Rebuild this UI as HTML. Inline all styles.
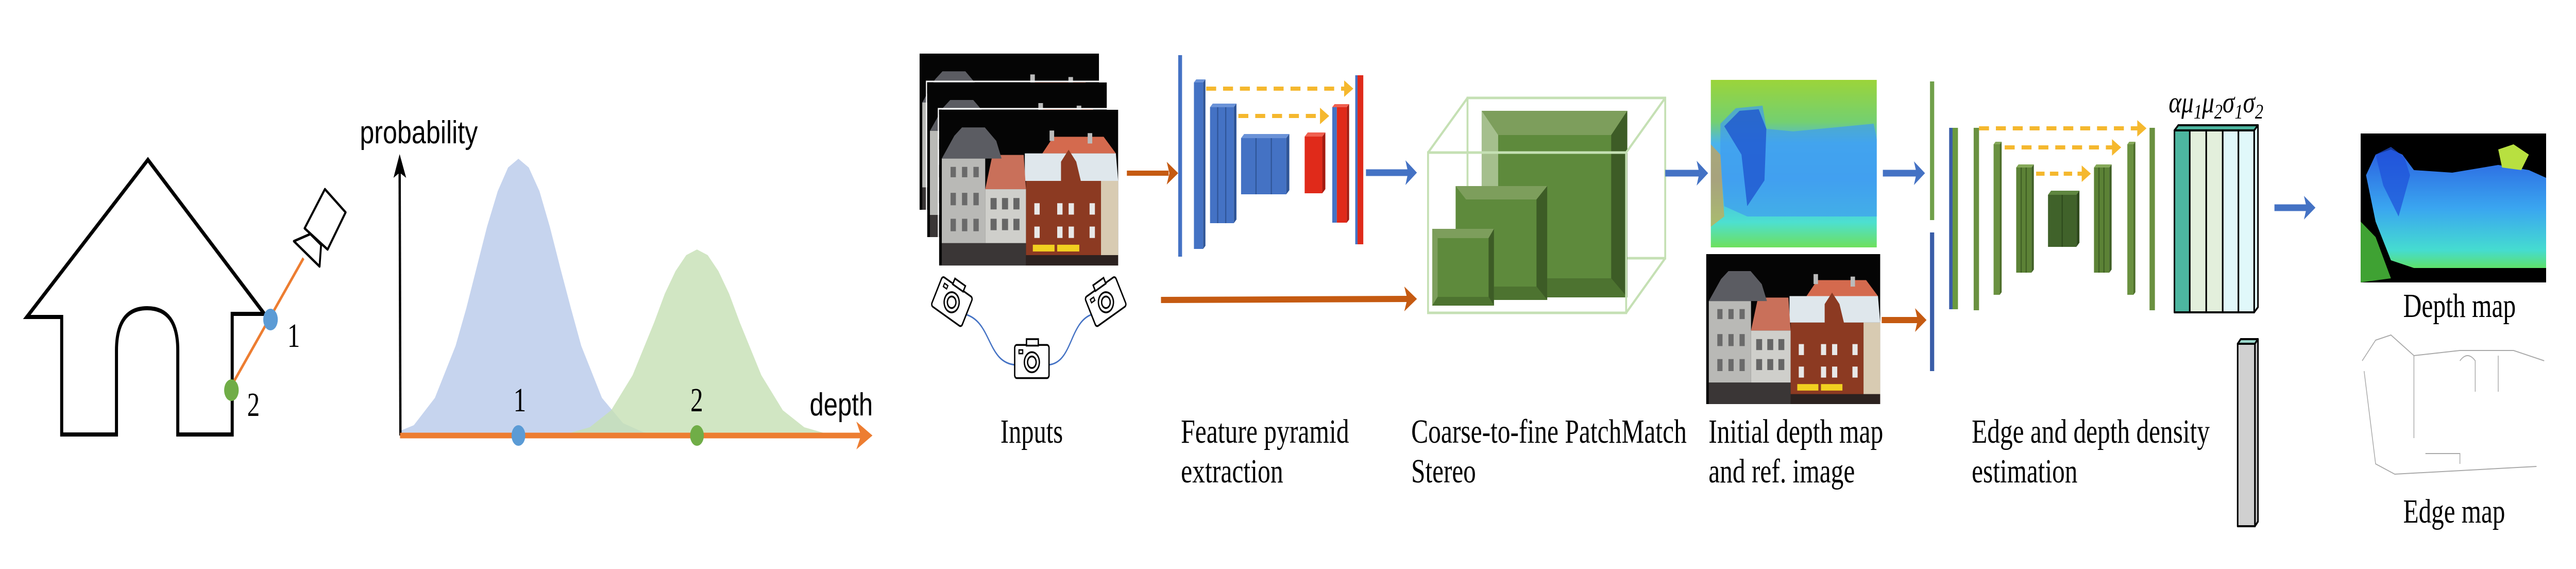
<!DOCTYPE html>
<html><head><meta charset="utf-8"><style>
html,body{margin:0;padding:0;background:#fff;width:100%;height:100%;overflow:hidden}
svg{display:block;width:100vw;height:100vh}
.lab{font-family:"Liberation Serif",serif;font-size:66px;fill:#000}
</style></head><body>
<svg viewBox="0 0 6723 1104" preserveAspectRatio="none" xmlns="http://www.w3.org/2000/svg">
<defs>
<g id="bld">
<rect x="0" y="0" width="470" height="300" fill="#050505"/>
<polygon points="271,84 300,52 432,52 464,84" fill="#d46a4e"/>
<rect x="290" y="40" width="12" height="20" fill="#bbb"/><rect x="390" y="45" width="12" height="20" fill="#bbb"/>
<polygon points="225,84 464,84 470,137 225,137" fill="#dfe7ec"/>
<polygon points="228,137 320,137 320,100 340,77 360,100 372,137 425,137 425,293 228,293" fill="#8c3a22"/>
<g fill="#e8e8e8"><rect x="250" y="180" width="14" height="22"/><rect x="310" y="180" width="14" height="22"/><rect x="340" y="180" width="14" height="22"/><rect x="395" y="180" width="14" height="22"/><rect x="250" y="225" width="14" height="22"/><rect x="310" y="225" width="14" height="22"/><rect x="340" y="225" width="14" height="22"/><rect x="395" y="225" width="14" height="22"/></g>
<rect x="425" y="137" width="45" height="163" fill="#d8cbb2"/>
<rect x="246" y="260" width="57" height="13" fill="#f1d020"/><rect x="310" y="260" width="58" height="13" fill="#f1d020"/>
<polygon points="121,153 140,87 222,87 228,153" fill="#c9705a"/>
<rect x="121" y="153" width="107" height="104" fill="#cfcfcb"/>
<g fill="#666"><rect x="135" y="170" width="16" height="22"/><rect x="165" y="170" width="16" height="22"/><rect x="195" y="170" width="16" height="22"/><rect x="135" y="210" width="16" height="22"/><rect x="165" y="210" width="16" height="22"/><rect x="195" y="210" width="16" height="22"/></g>
<polygon points="7,94 40,50 60,34 120,34 150,60 164,94" fill="#5b5c62"/>
<rect x="7" y="94" width="114" height="163" fill="#b9b9b6"/>
<g fill="#6a6a6a"><rect x="30" y="110" width="14" height="20"/><rect x="60" y="110" width="14" height="20"/><rect x="90" y="110" width="14" height="20"/><rect x="30" y="160" width="14" height="24"/><rect x="60" y="160" width="14" height="24"/><rect x="90" y="160" width="14" height="24"/><rect x="30" y="210" width="14" height="24"/><rect x="60" y="210" width="14" height="24"/><rect x="90" y="210" width="14" height="24"/></g>
<rect x="7" y="257" width="221" height="43" fill="#3a3636"/>
<rect x="228" y="280" width="242" height="20" fill="#2c2220"/>
</g>
<g id="cam">
<rect x="-32" y="-22" width="64" height="46" rx="4" fill="#fff" stroke="#000" stroke-width="2.5"/>
<rect x="-10" y="-30" width="22" height="9" fill="#fff" stroke="#000" stroke-width="2.5"/>
<circle cx="0" cy="2" r="14" fill="none" stroke="#000" stroke-width="2.5"/>
<circle cx="0" cy="2" r="8" fill="none" stroke="#000" stroke-width="2.5"/>
<rect x="-24" y="-15" width="7" height="5" fill="none" stroke="#000" stroke-width="2"/>
</g>
<linearGradient id="dm" x1="0" y1="0" x2="0" y2="1">
<stop offset="0" stop-color="#9bd43a"/><stop offset="0.25" stop-color="#74d070"/><stop offset="0.38" stop-color="#4ab4ec"/><stop offset="0.6" stop-color="#47a7f0"/><stop offset="0.85" stop-color="#4de0d0"/><stop offset="1" stop-color="#6ee05c"/>
</linearGradient>
<linearGradient id="dm2" x1="0" y1="0" x2="0" y2="1">
<stop offset="0" stop-color="#2a5fe0"/><stop offset="0.5" stop-color="#3aa6f0"/><stop offset="0.85" stop-color="#45dcd0"/><stop offset="1" stop-color="#5ee06a"/>
</linearGradient>
</defs>

<!-- House -->
<path d="M70,615 L386,310 L690,609 L606,609 L606,843 L464,843 L464,680 Q464,598 384,598 Q304,598 304,680 L304,843 L161,843 L161,615 Z" fill="none" stroke="#000" stroke-width="8" stroke-linejoin="miter"/>
<line x1="792" y1="501" x2="606" y2="746" stroke="#ed7d31" stroke-width="6"/>
<polygon points="848,367 902,412 855,484 795,443" fill="#fff" stroke="#000" stroke-width="5" stroke-linejoin="round"/>
<polygon points="810,454 767,468 834,517 838,475" fill="#fff" stroke="#000" stroke-width="5" stroke-linejoin="round"/>
<ellipse cx="706" cy="620" rx="19" ry="21" fill="#5b9bd5"/>
<ellipse cx="604" cy="757" rx="19" ry="21" fill="#70ad47"/>
<text x="750" y="673" class="lab" font-size="64">1</text>
<text x="645" y="807" class="lab" font-size="64">2</text>

<!-- Plot -->
<path d="M1044,845 L1044,836 L1080,825 L1135,772 L1189,671 L1217,598 L1244,519 L1271,440 L1299,371 L1326,325 L1353,308 L1380,325 L1408,371 L1435,440 L1462,519 L1490,598 L1517,671 L1571,772 L1626,821 L1680,839 L1735,844 Z" fill="#c6d4ee"/>
<path d="M1427,844 L1483,841 L1539,829 L1595,796 L1651,728 L1679,677 L1707,626 L1735,570 L1763,526 L1791,495 L1819,484 L1847,495 L1875,526 L1903,570 L1931,626 L1959,677 L1987,728 L2043,796 L2099,829 L2155,841 L2211,844 Z" fill="#c5e0b4" fill-opacity="0.8"/>
<line x1="1045" y1="845" x2="1043" y2="325" stroke="#000" stroke-width="6"/>
<polygon points="1043,299 1027,345 1043,335 1060,345" fill="#000"/>
<line x1="1044" y1="845" x2="2250" y2="845" stroke="#ed7d31" stroke-width="11"/>
<polygon points="2277,845 2235,818 2247,845 2235,872" fill="#ed7d31"/>
<ellipse cx="1353" cy="845" rx="18" ry="20" fill="#5b9bd5"/>
<ellipse cx="1819" cy="845" rx="18" ry="20" fill="#70ad47"/>
<text x="1340" y="798" class="lab" font-size="64">1</text>
<text x="1802" y="798" class="lab" font-size="64">2</text>
<text x="939" y="278" font-family="Liberation Sans, sans-serif" font-size="62" textLength="308" lengthAdjust="spacingAndGlyphs">probability</text>
<text x="2113" y="806" font-family="Liberation Sans, sans-serif" font-size="62" textLength="165" lengthAdjust="spacingAndGlyphs">depth</text>

<!-- Inputs -->
<use href="#bld" transform="translate(2400,104) scale(0.996,1.01)"/>
<use href="#bld" transform="translate(2420,160) scale(1,1.0)"/>
<rect x="2418" y="158" width="472" height="304" fill="none" stroke="#fff" stroke-width="3"/>
<use href="#bld" transform="translate(2451,213) scale(0.994,1.007)"/>
<rect x="2449" y="211" width="471" height="306" fill="none" stroke="#fff" stroke-width="3"/>
<path d="M2520,610 C2590,625 2575,705 2652,708" fill="none" stroke="#4472c4" stroke-width="3"/>
<path d="M2735,708 C2800,705 2790,625 2850,610" fill="none" stroke="#4472c4" stroke-width="3"/>
<use href="#cam" transform="translate(2485,584) rotate(28) scale(1.4)"/>
<use href="#cam" transform="translate(2885,584) rotate(-28) scale(1.4)"/>
<use href="#cam" transform="translate(2693,700) scale(1.4)"/>
<text x="2611" y="859" class="lab" textLength="163" lengthAdjust="spacingAndGlyphs">Inputs</text>

<!-- Arrows orange -->
<line x1="2941" y1="336" x2="3050" y2="336" stroke="#c55a11" stroke-width="10"/>
<polygon points="3075,336 3045,314 3052,336 3045,358" fill="#c55a11"/>
<line x1="3030" y1="582" x2="3675" y2="580" stroke="#c55a11" stroke-width="12"/>
<polygon points="3698,580 3665,556 3673,580 3665,604" fill="#c55a11"/>

<!-- Feature pyramid -->
<rect x="3075" y="107" width="10" height="391" fill="#4472c4"/>
<g>
<rect x="3116" y="160" width="24" height="323" fill="#4472c4"/><polygon points="3116,160 3122,154 3146,154 3140,160" fill="#6b93d8"/><polygon points="3140,160 3146,154 3146,477 3140,483" fill="#2f5597"/>
<rect x="3158" y="208" width="62" height="225" fill="#4472c4"/><polygon points="3158,208 3165,201 3227,201 3220,208" fill="#6b93d8"/><polygon points="3220,208 3227,201 3227,426 3220,433" fill="#2f5597"/>
<line x1="3178" y1="208" x2="3178" y2="433" stroke="#2f5597" stroke-width="3"/><line x1="3199" y1="208" x2="3199" y2="433" stroke="#2f5597" stroke-width="3"/>
<rect x="3239" y="268" width="118" height="109" fill="#4472c4"/><polygon points="3239,268 3247,260 3365,260 3357,268" fill="#6b93d8"/><polygon points="3357,268 3365,260 3365,369 3357,377" fill="#2f5597"/>
<line x1="3278" y1="268" x2="3278" y2="377" stroke="#2f5597" stroke-width="3"/><line x1="3318" y1="268" x2="3318" y2="377" stroke="#2f5597" stroke-width="3"/>
<rect x="3405" y="265" width="46" height="110" fill="#e02a1a"/><polygon points="3405,265 3413,257 3459,257 3451,265" fill="#f06050"/><polygon points="3451,265 3459,257 3459,367 3451,375" fill="#a51a10"/>
<rect x="3477" y="208" width="12" height="224" fill="#4472c4"/><rect x="3489" y="208" width="26" height="224" fill="#e02a1a"/><polygon points="3477,208 3483,202 3521,202 3515,208" fill="#f06050"/><polygon points="3515,208 3521,202 3521,426 3515,432" fill="#a51a10"/>
<rect x="3537" y="146" width="6" height="328" fill="#4472c4"/><rect x="3543" y="146" width="15" height="328" fill="#e02a1a"/>
</g>
<line x1="3148" y1="172" x2="3510" y2="172" stroke="#f5b82e" stroke-width="8" stroke-dasharray="26,18"/>
<polygon points="3532,172 3508,156 3508,188" fill="#f5b82e"/>
<line x1="3232" y1="225" x2="3448" y2="225" stroke="#f5b82e" stroke-width="8" stroke-dasharray="26,18"/>
<polygon points="3469,225 3445,209 3445,241" fill="#f5b82e"/>
<text x="3082" y="859" class="lab" textLength="439" lengthAdjust="spacingAndGlyphs">Feature pyramid</text>
<text x="3082" y="936" class="lab" textLength="267" lengthAdjust="spacingAndGlyphs">extraction</text>

<!-- blue arrow 1 -->
<line x1="3565" y1="335" x2="3675" y2="335" stroke="#4472c4" stroke-width="13"/>
<polygon points="3698,335 3668,311 3675,335 3668,359" fill="#4472c4"/>

<!-- PatchMatch cube -->
<g stroke="#c5e0b4" stroke-width="5" fill="none">
<rect x="3830" y="190" width="516" height="311"/>
</g>
<g>
<rect x="3867" y="215" width="380" height="362" fill="#5e8a3c"/>
<polygon points="3867,215 4247,215 4205,262 3910,262" fill="#7d9e5c"/>
<polygon points="4247,215 4247,577 4205,540 4205,262" fill="#3d5c26"/>
<polygon points="3867,215 3910,262 3910,540 3867,577" fill="#a5bf8d"/>
<polygon points="3867,577 4247,577 4205,540 3910,540" fill="#4d7330"/>
<rect x="3799" y="361" width="239" height="221" fill="#5e8a3c"/>
<polygon points="3799,361 4038,361 4010,387 3826,387" fill="#7d9e5c"/>
<polygon points="4038,361 4038,582 4010,556 4010,387" fill="#3d5c26"/>
<polygon points="3799,582 4038,582 4010,556 3826,556" fill="#4d7330"/>
<rect x="3738" y="444" width="161" height="149" fill="#5e8a3c"/>
<polygon points="3738,444 3899,444 3885,462 3752,462" fill="#7d9e5c"/>
<polygon points="3899,444 3899,593 3885,576 3885,462" fill="#3d5c26"/>
<polygon points="3738,444 3752,462 3752,576 3738,593" fill="#7d9e5c"/>
<polygon points="3738,593 3899,593 3885,576 3752,576" fill="#4d7330"/>
</g>
<g stroke="#c5e0b4" stroke-width="5" fill="none">
<rect x="3727" y="296" width="517" height="311"/>
<line x1="3727" y1="296" x2="3830" y2="190"/><line x1="4244" y1="296" x2="4346" y2="190"/>
<line x1="4244" y1="607" x2="4346" y2="501"/>
</g>
<text x="3683" y="859" class="lab" textLength="719" lengthAdjust="spacingAndGlyphs">Coarse-to-fine PatchMatch</text>
<text x="3683" y="936" class="lab" textLength="169" lengthAdjust="spacingAndGlyphs">Stereo</text>

<!-- blue arrow 2 -->
<line x1="4346" y1="336" x2="4435" y2="336" stroke="#4472c4" stroke-width="13"/>
<polygon points="4458,336 4428,312 4435,336 4428,360" fill="#4472c4"/>

<!-- initial depth map -->
<rect x="4465" y="155" width="433" height="325" fill="url(#dm)"/>
<polygon points="4490,240 4530,210 4600,205 4610,250 4680,255 4890,240 4898,270 4898,420 4560,420 4500,400 4490,300" fill="#3f9cf0" opacity="0.7"/>
<polygon points="4500,245 4540,215 4590,212 4610,250 4605,350 4560,400 4545,300" fill="#1f56d0" opacity="0.8"/>
<polygon points="4465,280 4490,300 4500,420 4465,440" fill="#e8a030" opacity="0.6"/>
<use href="#bld" transform="translate(4453,493) scale(0.966,0.97)"/>
<text x="4459" y="859" class="lab" textLength="456" lengthAdjust="spacingAndGlyphs">Initial depth map</text>
<text x="4459" y="936" class="lab" textLength="382" lengthAdjust="spacingAndGlyphs">and ref. image</text>

<!-- arrows into second network -->
<line x1="4914" y1="336" x2="5002" y2="336" stroke="#4472c4" stroke-width="13"/>
<polygon points="5024,336 4995,313 5002,336 4995,359" fill="#4472c4"/>
<line x1="4911" y1="621" x2="5005" y2="621" stroke="#c55a11" stroke-width="12"/>
<polygon points="5028,621 4998,598 5005,621 4998,644" fill="#c55a11"/>

<!-- second unet -->
<rect x="5037" y="158" width="11" height="269" fill="#70a04a"/>
<rect x="5037" y="451" width="11" height="269" fill="#3a5da8"/>
<rect x="5087" y="248" width="9" height="352" fill="#3a5da8"/><rect x="5096" y="248" width="14" height="352" fill="#6a9a40"/>
<rect x="5151" y="248" width="14" height="354" fill="#6a9140"/>
<rect x="5203" y="280" width="16" height="292" fill="#6a9140"/><polygon points="5203,280 5208,275 5224,275 5219,280" fill="#86a95a"/><polygon points="5219,280 5224,275 5224,567 5219,572" fill="#4d6e2a"/>
<rect x="5262" y="325" width="40" height="204" fill="#5c8236"/><polygon points="5262,325 5268,319 5308,319 5302,325" fill="#86a95a"/><polygon points="5302,325 5308,319 5308,523 5302,529" fill="#3f5f25"/>
<line x1="5275" y1="325" x2="5275" y2="529" stroke="#3f5f25" stroke-width="3"/><line x1="5288" y1="325" x2="5288" y2="529" stroke="#3f5f25" stroke-width="3"/>
<rect x="5345" y="378" width="74" height="101" fill="#40622a"/><polygon points="5345,378 5353,370 5427,370 5419,378" fill="#5f8640"/><polygon points="5419,378 5427,370 5427,471 5419,479" fill="#2e4a1c"/>
<line x1="5382" y1="378" x2="5382" y2="479" stroke="#2e4a1c" stroke-width="3"/>
<rect x="5465" y="325" width="40" height="204" fill="#5c8236"/><polygon points="5465,325 5471,319 5511,319 5505,325" fill="#86a95a"/><polygon points="5505,325 5511,319 5511,523 5505,529" fill="#3f5f25"/>
<line x1="5478" y1="325" x2="5478" y2="529" stroke="#3f5f25" stroke-width="3"/><line x1="5491" y1="325" x2="5491" y2="529" stroke="#3f5f25" stroke-width="3"/>
<rect x="5552" y="280" width="16" height="292" fill="#6a9140"/><polygon points="5552,280 5557,275 5573,275 5568,280" fill="#86a95a"/><polygon points="5568,280 5573,275 5573,567 5568,572" fill="#4d6e2a"/>
<rect x="5610" y="248" width="14" height="354" fill="#6a9140"/>
<line x1="5165" y1="249" x2="5580" y2="249" stroke="#f5b82e" stroke-width="8" stroke-dasharray="26,18"/>
<polygon points="5602,249 5578,233 5578,265" fill="#f5b82e"/>
<line x1="5232" y1="286" x2="5515" y2="286" stroke="#f5b82e" stroke-width="8" stroke-dasharray="26,18"/>
<polygon points="5536,286 5512,270 5512,302" fill="#f5b82e"/>
<line x1="5314" y1="337" x2="5436" y2="337" stroke="#f5b82e" stroke-width="8" stroke-dasharray="22,14"/>
<polygon points="5457,337 5433,321 5433,353" fill="#f5b82e"/>
<text x="5146" y="859" class="lab" textLength="621" lengthAdjust="spacingAndGlyphs">Edge and depth density</text>
<text x="5146" y="936" class="lab" textLength="276" lengthAdjust="spacingAndGlyphs">estimation</text>

<!-- output block -->
<g stroke="#000" stroke-width="4" stroke-linejoin="round">
<polygon points="5675,253 5685,243 5893,243 5883,253" fill="#4db6a0"/>
<polygon points="5883,253 5893,243 5893,596 5883,606" fill="#e0f7f8"/>
<rect x="5675" y="253" width="40" height="353" fill="#4db6a0"/>
<rect x="5715" y="253" width="43" height="353" fill="#e3efdc"/>
<rect x="5758" y="253" width="43" height="353" fill="#e3efdc"/>
<rect x="5801" y="253" width="41" height="353" fill="#e0f8fa"/>
<rect x="5842" y="253" width="41" height="353" fill="#e0f8fa"/>
</g>
<g stroke="#000" stroke-width="4" stroke-linejoin="round">
<polygon points="5840,667 5848,658 5893,658 5885,667" fill="#9bd8cc"/>
<polygon points="5885,667 5893,658 5893,1012 5885,1021" fill="#c8c8c8"/>
<rect x="5840" y="667" width="45" height="354" fill="#d0d0d0"/>
</g>
<text x="5660" y="218" font-family="Liberation Serif, DejaVu Serif, serif" font-style="italic" font-size="58" textLength="247" lengthAdjust="spacingAndGlyphs">αμ<tspan font-size="40" dy="12">1</tspan><tspan dy="-12">μ</tspan><tspan font-size="40" dy="12">2</tspan><tspan dy="-12">σ</tspan><tspan font-size="40" dy="12">1</tspan><tspan dy="-12">σ</tspan><tspan font-size="40" dy="12">2</tspan></text>

<!-- blue arrow 3 -->
<line x1="5936" y1="403" x2="6020" y2="403" stroke="#4472c4" stroke-width="13"/>
<polygon points="6043,403 6013,380 6020,403 6013,426" fill="#4472c4"/>

<!-- outputs -->
<rect x="6161" y="259" width="484" height="289" fill="#000"/>
<polygon points="6175,340 6200,300 6240,290 6270,300 6300,330 6400,335 6520,320 6600,330 6645,345 6645,520 6300,520 6240,505 6200,430" fill="url(#dm2)"/>
<polygon points="6200,300 6240,285 6275,305 6290,340 6260,420 6220,360" fill="#1e50d8" opacity="0.7"/>
<polygon points="6520,290 6560,280 6600,300 6580,330 6530,325" fill="#b8e040"/>
<polygon points="6161,430 6200,460 6240,540 6161,548" fill="#4fcb40" opacity="0.8"/>
<rect x="6150" y="637" width="495" height="320" fill="#fff"/>
<g fill="none" stroke="#aaa" stroke-width="2">
<path d="M6165,700 L6200,660 L6240,650 L6270,670 L6300,690 L6420,680 L6560,680 L6640,700"/>
<path d="M6170,720 L6200,900 L6250,920 L6620,905"/>
<path d="M6300,690 L6300,850 M6420,700 Q6440,680 6460,700 L6460,760 M6520,690 L6520,760 M6330,880 L6420,880 L6420,900"/>
</g>
<text x="6272" y="615" class="lab" textLength="294" lengthAdjust="spacingAndGlyphs">Depth map</text>
<text x="6272" y="1014" class="lab" textLength="266" lengthAdjust="spacingAndGlyphs">Edge map</text>
</svg>
</body></html>
